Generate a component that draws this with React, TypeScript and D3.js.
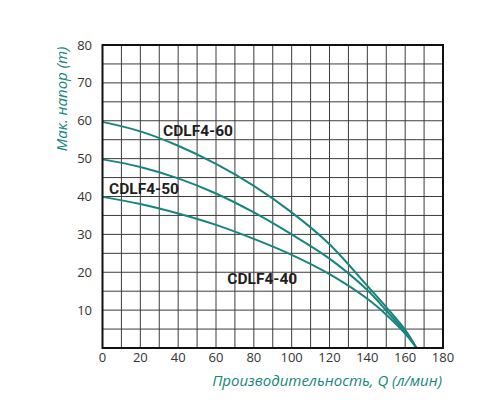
import React, { useEffect, useRef } from 'react';
import * as d3 from 'd3';

// flow (l/min) vs head (m)
const flowPts = [0, 20, 40, 60, 80, 100, 120, 140, 150, 160, 166];
const head60 = [59.7, 57.2, 53.4, 48.6, 42.8, 35.8, 27.4, 16.4, 10.8, 4.8, 0];
const head50 = [49.8, 47.8, 44.8, 40.8, 35.8, 30.0, 23.6, 15.3, 9.9, 4.2, 0];
const head40 = [39.9, 38.0, 35.5, 32.5, 28.8, 24.6, 19.5, 13.0, 8.8, 3.8, 0];

const seriesNames = ['CDLF4-60', 'CDLF4-50', 'CDLF4-40'];
const seriesValues = [head60, head50, head40];
// label anchor (flow, head) for each series name
const labelAt: [number, number][] = [[32, 57.5], [3.5, 42], [66, 18.2]];

const xTicks = [0, 20, 40, 60, 80, 100, 120, 140, 160, 180];
const yTicks = [10, 20, 30, 40, 50, 60, 70, 80];

const App: React.FC = () => {
  const svgRef = useRef<SVGSVGElement>(null);

  useEffect(() => {
    if (!svgRef.current) return;
    const svg = d3.select(svgRef.current);
    svg.selectAll('*').remove();

    const left = 102.5, right = 443, top = 45, bottom = 348;
    const x = d3.scaleLinear().domain([0, 180]).range([left, right]);
    const y = d3.scaleLinear().domain([0, 80]).range([bottom, top]);
    const teal = '#17857d';

    // grid: every 10 l/min, every 5 m
    const g = svg.append('g');
    d3.range(10, 180, 10).forEach(v => {
      g.append('line')
        .attr('x1', x(v)).attr('x2', x(v)).attr('y1', top).attr('y2', bottom)
        .attr('stroke', '#3c3c3c').attr('stroke-width', 1);
    });
    d3.range(5, 80, 5).forEach(v => {
      g.append('line')
        .attr('x1', left).attr('x2', right).attr('y1', y(v)).attr('y2', y(v))
        .attr('stroke', '#3c3c3c').attr('stroke-width', 1);
    });

    // curves
    const line = d3.line<number>()
      .x((_, i) => x(flowPts[i]))
      .y(d => y(d))
      .curve(d3.curveCatmullRom.alpha(0.5));

    seriesValues.forEach(vals => {
      svg.append('path')
        .attr('d', line(vals) as string)
        .attr('fill', 'none')
        .attr('stroke', teal)
        .attr('stroke-width', 2);
    });

    // frame
    svg.append('rect')
      .attr('x', left).attr('y', top)
      .attr('width', right - left).attr('height', bottom - top)
      .attr('fill', 'none').attr('stroke', '#111').attr('stroke-width', 2);

    // series labels
    seriesNames.forEach((name, i) => {
      svg.append('text')
        .attr('x', x(labelAt[i][0]))
        .attr('y', y(labelAt[i][1]))
        .attr('dy', '0.35em')
        .attr('font-family', 'Roboto, sans-serif')
        .attr('font-weight', 700)
        .attr('font-size', 15.5)
        .attr('fill', '#1e1e1e')
        .text(name);
    });

    // tick labels
    xTicks.forEach(t => {
      svg.append('text')
        .attr('x', x(t)).attr('y', 362)
        .attr('text-anchor', 'middle')
        .attr('font-family', '"Open Sans", sans-serif')
        .attr('font-size', 13)
        .attr('fill', '#333')
        .text(t);
    });
    yTicks.forEach(t => {
      svg.append('text')
        .attr('x', 92).attr('y', y(t))
        .attr('dy', '0.35em')
        .attr('text-anchor', 'end')
        .attr('font-family', '"Open Sans", sans-serif')
        .attr('font-size', 13)
        .attr('fill', '#333')
        .text(t);
    });

    // axis titles
    svg.append('text')
      .attr('transform', `translate(67, 99) rotate(-90)`)
      .attr('text-anchor', 'middle')
      .attr('font-family', '"Open Sans", sans-serif')
      .attr('font-style', 'italic')
      .attr('font-size', 15)
      .attr('fill', teal)
      .text('Мак. напор (m)');

    svg.append('text')
      .attr('x', 442).attr('y', 386)
      .attr('text-anchor', 'end')
      .attr('font-family', '"Open Sans", sans-serif')
      .attr('font-style', 'italic')
      .attr('font-size', 15)
      .attr('fill', teal)
      .text('Производительность, Q (л/мин)');
  }, []);

  return (
    <div style={{ margin: -8 }}>
      <svg ref={svgRef} width={500} height={400} style={{ display: 'block', background: '#fff' }} />
    </div>
  );
};

export default App;
